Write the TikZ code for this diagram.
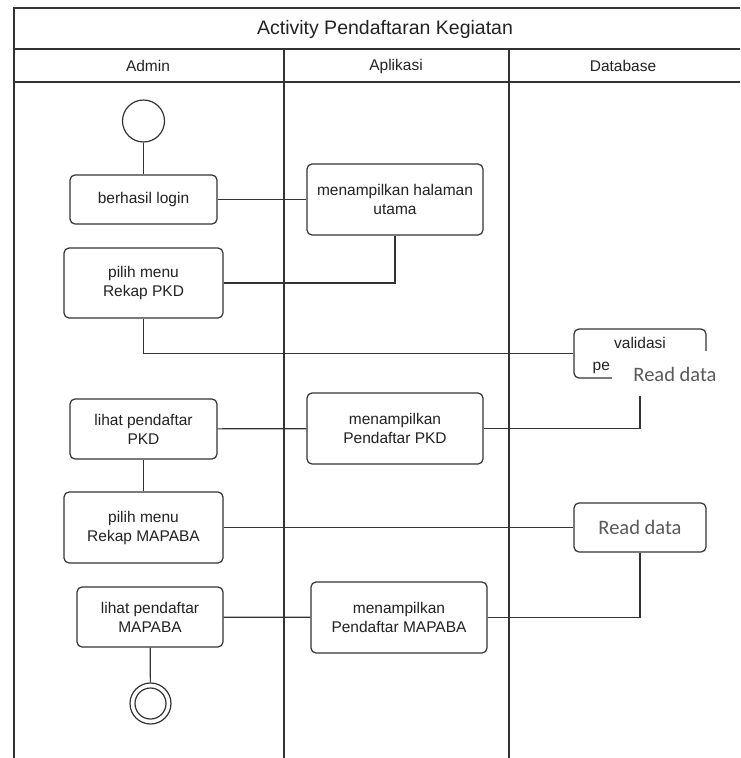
\documentclass[tikz,border=0pt]{standalone}
\usepackage{fontspec}
\setmainfont{Liberation Sans}
\newfontfamily\readfont{Carlito}
\definecolor{ink}{HTML}{333333}
\definecolor{txt}{HTML}{222222}
\definecolor{readgray}{HTML}{595959}
\begin{document}
\begin{tikzpicture}[x=1pt,y=-1pt,
  every node/.style={text=txt},
  lbl/.style={font=\fontsize{15.5}{19}\selectfont},
  act/.style={draw=ink, line width=1.2pt, rounded corners=5pt, fill=white,
    align=center, inner sep=0pt, lbl},
  startnode/.style={draw=ink, line width=1.2pt, circle, minimum size=42pt, inner sep=0pt},
  conn/.style={draw=ink, line width=1.2pt},
  lane/.style={draw=ink, line width=1.1pt},
  readtxt/.style={font=\readfont\fontsize{20.5}{24}\selectfont, text=readgray}
]
\useasboundingbox (0,0) rectangle (740,758);

% swimlane frame, open at the bottom and on the right
\draw[lane] (740,8) -- (14,8) -- (14,758);
\draw[lane] (14,49) -- (740,49);
\draw[lane] (14,82) -- (740,82);
\draw[lane] (284,49) -- (284,758);
\draw[lane] (509,49) -- (509,758);

\node[font=\fontsize{19.5}{23}\selectfont] (title) at (385,29) {Activity Pendaftaran Kegiatan};
\node[lbl] (hadmin) at (148,66) {Admin};
\node[lbl] (happ) at (396,66) {Aplikasi};
\node[lbl] (hdb) at (623,66) {Database};

% activities
\node[startnode] (start) at (143.5,121) {};
\node[act, minimum width=147pt, minimum height=49pt] (login) at (143.5,199.5) {berhasil login};
\node[act, minimum width=176pt, minimum height=71pt] (halaman) at (395,199.5) {menampilkan halaman\\utama};
\node[act, minimum width=159pt, minimum height=70pt] (rekappkd) at (143.5,283) {pilih menu\\Rekap PKD};
\node[act, minimum width=132pt, minimum height=49pt] (validasi) at (640,353.5) {validasi\\\phantom{pe}};
\node[lbl, anchor=base west, inner sep=0pt] (valpe) at (592.5,370) {pe};
\node[act, minimum width=147pt, minimum height=60pt] (lihatpkd) at (143.5,429) {lihat pendaftar\\PKD};
\node[act, minimum width=176pt, minimum height=71pt] (tampilpkd) at (395,428.5) {menampilkan\\Pendaftar PKD};
\node[act, minimum width=159pt, minimum height=71pt] (rekapmapaba) at (143.5,527.5) {pilih menu\\Rekap MAPABA};
\node[act, minimum width=132pt, minimum height=49pt, readtxt] (read2) at (640,527.5) {Read data};
\node[act, minimum width=146pt, minimum height=60pt] (lihatmapaba) at (150,617) {lihat pendaftar\\MAPABA};
\node[act, minimum width=176pt, minimum height=71pt] (tampilmapaba) at (399,617.5) {menampilkan\\Pendaftar MAPABA};
\node[startnode, minimum size=41pt] (finish) at (150.5,703.5) {};
\node[startnode, minimum size=31pt] (finishin) at (finish) {};

% connectors
\path[conn] (start) -- (login);
\path[conn] (login) -- (halaman);
\path[conn] (halaman.south) |- (rekappkd.east);
\path[conn] (rekappkd.south) |- (validasi.west);
\path[conn] (validasi.south) |- (tampilpkd.east);
\path[conn] (lihatpkd) -- (tampilpkd);
\path[conn] (lihatpkd) -- (rekapmapaba);
\path[conn] (rekapmapaba.east) -- (read2.west);
\path[conn] (read2.south) |- (tampilmapaba.east);
\path[conn] (lihatmapaba) -- (tampilmapaba);
\path[conn] (lihatmapaba) -- (finish);

% pasted label lying over the validation box
\fill[white] (612,351) rectangle (722,396);
\node[readtxt, inner sep=0pt] (read1) at (675,374) {Read data};
\end{tikzpicture}
\end{document}
